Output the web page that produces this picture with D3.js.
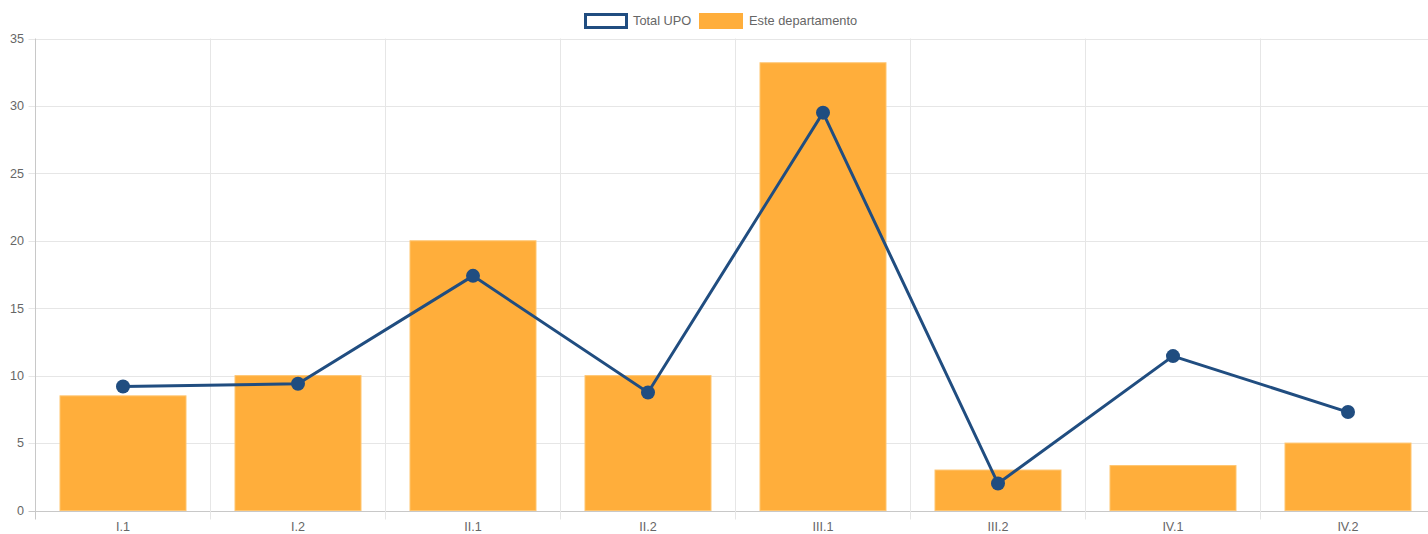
<!DOCTYPE html>
<html>
<head>
<meta charset="utf-8">
<script src="https://cdn.jsdelivr.net/npm/d3@7"></script>
<style>
    body { margin: 0; background: #fff; }
    svg { display: block; font-family: "Liberation Sans", Arial, sans-serif; }
</style>
</head>
<body>
<svg id="chart" width="1428" height="534"></svg>
<script>
const categories = ['I.1', 'I.2', 'II.1', 'II.2', 'III.1', 'III.2', 'IV.1', 'IV.2'];
const totalUpo = [9.2, 9.4, 17.4, 8.75, 29.5, 2.0, 11.45, 7.3];
const departamento = [8.5, 10, 20, 10, 33.2, 3, 3.33, 5];
const yTicks = [0, 5, 10, 15, 20, 25, 30, 35];

const svg = d3.select('#chart');
const plotLeft = 35.5, plotTop = 38.5, plotBottom = 510.5;

const x = d3.scaleBand()
    .domain(categories)
    .range([plotLeft, plotLeft + 175 * categories.length]);
const y = d3.scaleLinear().domain([0, 35]).range([plotBottom, plotTop]);

const grid = svg.append('g');
// horizontal grid
grid.selectAll('line.h').data(yTicks).enter()
    .append('line')
    .attr('x1', plotLeft - 7).attr('x2', 1428)
    .attr('y1', d => Math.round(y(d)) + 0.5).attr('y2', d => Math.round(y(d)) + 0.5)
    .attr('stroke', d => d === 0 ? '#c8c8c8' : '#e6e6e6');
// vertical grid
grid.selectAll('line.v').data(categories).enter()
    .append('line')
    .attr('x1', d => x(d)).attr('x2', d => x(d))
    .attr('y1', plotTop).attr('y2', plotBottom + 9)
    .attr('stroke', (d, i) => i === 0 ? '#c8c8c8' : '#e6e6e6');

// y labels
svg.append('g').selectAll('text').data(yTicks).enter()
    .append('text')
    .attr('x', 24).attr('y', d => y(d))
    .attr('dy', '0.35em')
    .attr('text-anchor', 'end')
    .attr('font-size', 12.6)
    .attr('fill', '#666')
    .text(d => d);

// x labels
svg.append('g').selectAll('text').data(categories).enter()
    .append('text')
    .attr('x', d => x(d) + x.bandwidth() / 2).attr('y', 531)
    .attr('text-anchor', 'middle')
    .attr('font-size', 12.6)
    .attr('fill', '#666')
    .text(d => d);

// bars
const barW = x.bandwidth() * 0.72;
svg.append('g').selectAll('rect').data(departamento).enter()
    .append('rect')
    .attr('x', (d, i) => x(categories[i]) + (x.bandwidth() - barW) / 2)
    .attr('y', d => y(d))
    .attr('width', barW)
    .attr('height', d => plotBottom - y(d))
    .attr('fill', '#ffae3b')
    .attr('stroke', '#ffc56f')
    .attr('stroke-width', 1);

// line
const cx = (d, i) => x(categories[i]) + x.bandwidth() / 2;
const line = d3.line().x(cx).y(d => y(d));
svg.append('path')
    .datum(totalUpo)
    .attr('d', line)
    .attr('fill', 'none')
    .attr('stroke', '#204d80')
    .attr('stroke-width', 3);
svg.append('g').selectAll('circle').data(totalUpo).enter()
    .append('circle')
    .attr('cx', cx).attr('cy', d => y(d))
    .attr('r', 7)
    .attr('fill', '#204d80');

// legend
const legend = svg.append('g').attr('font-size', 12.8).attr('fill', '#666');
legend.append('rect')
    .attr('x', 585.5).attr('y', 14.5).attr('width', 41).attr('height', 13)
    .attr('fill', '#fff').attr('stroke', '#204d80').attr('stroke-width', 3);
legend.append('text').attr('x', 633).attr('y', 25).text('Total UPO');
legend.append('rect')
    .attr('x', 699).attr('y', 13).attr('width', 44).attr('height', 16)
    .attr('fill', '#ffae3b');
legend.append('text').attr('x', 749).attr('y', 25).text('Este departamento');
</script>
</body>
</html>
